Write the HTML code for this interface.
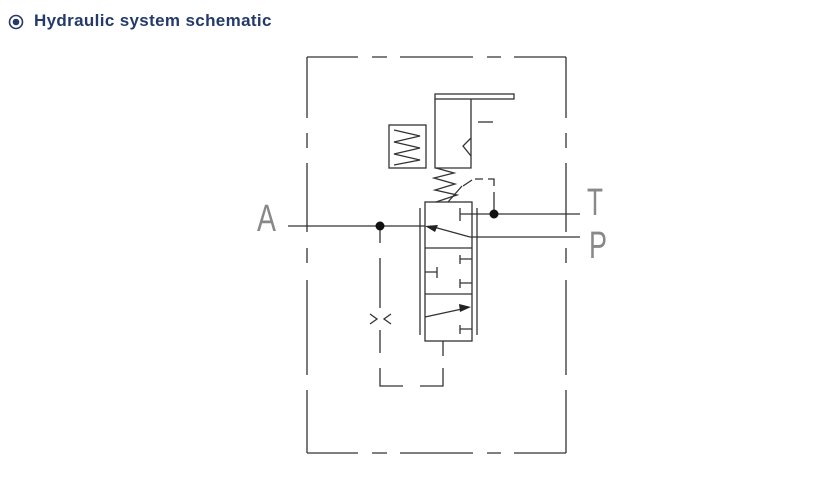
<!DOCTYPE html>
<html><head><meta charset="utf-8"><style>
html,body{margin:0;padding:0;background:#fff;width:820px;height:480px;overflow:hidden}
.h{position:absolute;left:34px;top:11px;font-family:"Liberation Sans",sans-serif;font-weight:bold;font-size:17px;letter-spacing:0.35px;color:#233a6a}
</style></head><body>
<div class="h">Hydraulic system schematic</div>
<svg width="820" height="480" style="position:absolute;left:0;top:0" xmlns="http://www.w3.org/2000/svg">
<circle cx="16" cy="22" r="6.5" fill="none" stroke="#233a6a" stroke-width="1.6"/>
<circle cx="16" cy="22" r="3.3" fill="#233a6a"/>
<g stroke="#333" stroke-width="1.3" fill="none">
<path d="M307 57H358M372 57H387M400 57H473M487 57H501M514 57H566"/>
<path d="M307 453H358M372 453H387M400 453H473M487 453H501M514 453H566"/>
<path d="M307 57V118M307 133V148M307 163V232M307 248V263M307 280V375M307 390V453"/>
<path d="M566 57V118M566 133V148M566 163V232M566 248V263M566 280V375M566 390V453"/>
<rect x="435" y="94" width="79" height="5"/>
<path d="M435 99V168H471V99"/>
<rect x="389" y="125" width="37" height="43"/>
<path d="M394 130L420 136L394 142L420 148L394 154L420 160L394 165"/>
<path d="M478 122H493"/>
<path d="M471 138L463 146L471 156"/>
<path d="M436 168L454 173L434 178L455 184L435 190L457 195L436 202"/>
<path d="M448 202L462 186"/>
<path d="M463 186L472 180M475 179H483M488 179H494V186M494 192V210"/>
<rect x="425" y="202" width="47" height="139"/>
<path d="M425 248H472M425 294H472"/>
<path d="M420 208V335M477 208V335"/>
<path d="M288 226H425"/>
<path d="M470 237L430 226M470 237H580"/>
<path d="M460 214H580M460 208V221"/>
<path d="M460 259H472M460 255V264M460 283H472M460 279V288M425 272H437M437 267V278"/>
<path d="M425 317L462 309M460 329H472M460 325V334"/>
<path d="M443 341V356M443 368V386H420M403 386H380V368"/>
<path d="M380 226V243M380 258V308M380 330V353"/>
<path d="M370 314L377 319L370 324M391 314L384 319L391 324"/>
</g>
<polygon points="425,226 438,225 435,232" fill="#222"/>
<polygon points="471,307 459,304 460,312" fill="#222"/>
<circle cx="380" cy="226" r="4.5" fill="#111"/>
<circle cx="494" cy="214" r="4.5" fill="#111"/>
<g font-family="Liberation Sans,sans-serif" font-size="38" fill="#888">
<text x="257" y="231" textLength="19" lengthAdjust="spacingAndGlyphs">A</text>
<text x="587" y="215" textLength="16" lengthAdjust="spacingAndGlyphs">T</text>
<text x="589" y="258" textLength="18" lengthAdjust="spacingAndGlyphs">P</text>
</g>
</svg>
</body></html>
